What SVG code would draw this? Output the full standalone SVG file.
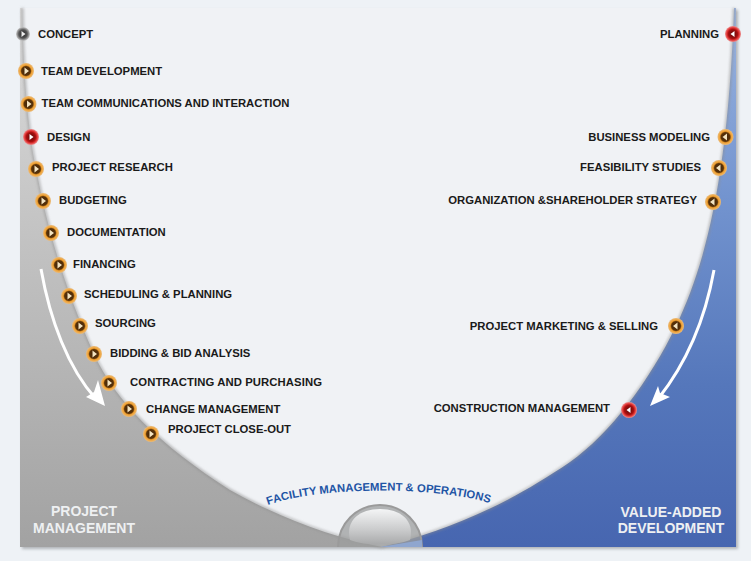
<svg xmlns="http://www.w3.org/2000/svg" xmlns:xlink="http://www.w3.org/1999/xlink" width="751" height="561" viewBox="0 0 751 561">
<style>
text{font-family:"Liberation Sans",Arial,sans-serif}
.l{font-size:11.300px;font-weight:bold;fill:#1a1a1a}
.e{text-anchor:end}
.t{font-size:14px;font-weight:bold;fill:#eef0f2;text-anchor:middle}
</style>
<defs>
<linearGradient id="grey" x1="0" y1="0" x2="0" y2="1"><stop offset="0" stop-color="#dcdcdc"/><stop offset=".4" stop-color="#c4c4c4"/><stop offset="1" stop-color="#a2a2a2"/></linearGradient>
<linearGradient id="blue" x1="0" y1="0" x2="0" y2="1"><stop offset="0" stop-color="#9ab4e0"/><stop offset=".35" stop-color="#7394cf"/><stop offset=".7" stop-color="#5577bb"/><stop offset="1" stop-color="#4766b0"/></linearGradient>
<linearGradient id="dome" x1="0" y1="0" x2="0" y2="1"><stop offset="0" stop-color="#f4f5f6"/><stop offset=".6" stop-color="#c9cacb"/><stop offset="1" stop-color="#a8a9aa"/></linearGradient>
<radialGradient id="or"><stop offset="0" stop-color="#3a2208"/><stop offset=".55" stop-color="#5a3208"/><stop offset=".72" stop-color="#f0a030"/><stop offset="1" stop-color="#eabb7a"/></radialGradient>
<radialGradient id="rd"><stop offset="0" stop-color="#5a0808"/><stop offset=".58" stop-color="#a81010"/><stop offset=".76" stop-color="#e03030"/><stop offset="1" stop-color="#ec9090"/></radialGradient>
<radialGradient id="gy"><stop offset="0" stop-color="#222"/><stop offset=".6" stop-color="#555"/><stop offset="1" stop-color="#c8c8c8"/></radialGradient>
<g id="or-r"><circle r="8" fill="url(#or)"/><path d="M-1.500-3.500L3 0L-1.500 3.500Z" fill="#f4e4c0"/></g>
<g id="or-l"><circle r="8" fill="url(#or)"/><path d="M1.500-3.500L-3 0L1.500 3.500Z" fill="#f4e4c0"/></g>
<g id="rd-r"><circle r="8" fill="url(#rd)"/><path d="M-1.500-3L2.500 0L-1.500 3Z" fill="#fff"/></g>
<g id="rd-l"><circle r="8" fill="url(#rd)"/><path d="M1.500-3L-2.500 0L1.500 3Z" fill="#fff"/></g>
<g id="gy-r"><circle r="7" fill="url(#gy)"/><path d="M-1.500-3L2.500 0L-1.500 3Z" fill="#eee"/></g>
<filter id="sh" x="-5%" y="-5%" width="110%" height="110%"><feGaussianBlur stdDeviation="1.500"/></filter>
</defs>
<rect width="751" height="561" fill="#eef2f6"/>
<g id="panel">
<rect x="22" y="10" width="716" height="539" fill="#b0b4b8" filter="url(#sh)"/>
<rect x="20" y="8" width="716" height="539" fill="#f0f2f5"/>
<path d="M20 8H22.500C23 70 28 130 36 168C46 222 62 282 94 354C116 402 160 445 230 490C280 518 335 538 382 547H20Z" fill="url(#grey)"/>
<path d="M736 8V547H382C440 532 500 510 570 462C610 434 650 380 676 326C705 265 728 180 734 8Z" fill="url(#blue)"/>
<path d="M22.500 8C23 70 28 130 36 168C46 222 62 282 94 354C116 402 160 445 230 490C280 518 335 538 382 547" fill="none" stroke="#8e8e8e" stroke-width="1.500" filter="url(#sh)"/>
<path d="M734 8C728 180 705 265 676 326C650 380 610 434 570 462C500 510 440 532 382 547" fill="none" stroke="#8e8e8e" stroke-width="1.500" filter="url(#sh)"/>
</g>
<g id="dome-node">
<path d="M338 547A42 42 0 0 1 422 547Z" fill="#9c9d9e" fill-opacity=".75"/>
<path d="M350 540C345 520 360 509 380 509C400 509 415 520 410 540C395 546 365 546 350 540Z" fill="url(#dome)"/>
<path d="M338 547A42 42 0 0 1 422 547" fill="none" stroke="#9a9a9a" stroke-width="2"/>
<path d="M380 547L422 540V547Z" fill="#8fa6cf"/>
</g>
<g id="connectors" fill="none" stroke="#fff" stroke-width="3">
<path d="M41 269C50 320 68 368 96 399"/>
<path d="M714 270C705 320 685 365 658 399"/>
<path d="M105 406L86 397L94 392L98 380Z" fill="#fff" stroke="none"/>
<path d="M650 406L670 397L660 393L658 386Z" fill="#fff" stroke="none"/>
</g>
<g id="concept"><use href="#gy-r" x="23" y="34"/><text class="l" x="38" y="37.500">CONCEPT</text></g>
<g id="team-development"><use href="#or-r" x="26" y="71"/><text class="l" x="41" y="74.500">TEAM DEVELOPMENT</text></g>
<g id="team-communications"><use href="#or-r" x="28.500" y="104"/><text class="l" x="41.500" y="106.500">TEAM COMMUNICATIONS AND INTERACTION</text></g>
<g id="design"><use href="#rd-r" x="31" y="137"/><text class="l" x="47" y="140.500">DESIGN</text></g>
<g id="project-research"><use href="#or-r" x="36" y="169"/><text class="l" x="52" y="171" textLength="121">PROJECT RESEARCH</text></g>
<g id="budgeting"><use href="#or-r" x="43" y="201"/><text class="l" x="59" y="203.500">BUDGETING</text></g>
<g id="documentation"><use href="#or-r" x="51" y="233"/><text class="l" x="67" y="236">DOCUMENTATION</text></g>
<g id="financing"><use href="#or-r" x="59" y="265"/><text class="l" x="73" y="267.500">FINANCING</text></g>
<g id="scheduling"><use href="#or-r" x="69" y="296"/><text class="l" x="84" y="297.500">SCHEDULING &amp; PLANNING</text></g>
<g id="sourcing"><use href="#or-r" x="80" y="326"/><text class="l" x="95" y="327">SOURCING</text></g>
<g id="bidding"><use href="#or-r" x="94" y="354"/><text class="l" x="110" y="356.500">BIDDING &amp; BID ANALYSIS</text></g>
<g id="contracting"><use href="#or-r" x="109" y="383"/><text class="l" x="130" y="385.500" textLength="192">CONTRACTING AND PURCHASING</text></g>
<g id="change-management"><use href="#or-r" x="129" y="409"/><text class="l" x="146" y="412.500">CHANGE MANAGEMENT</text></g>
<g id="close-out"><use href="#or-r" x="151" y="434"/><text class="l" x="168" y="433">PROJECT CLOSE-OUT</text></g>
<g id="planning"><use href="#rd-l" x="733" y="34"/><text class="l e" x="719" y="37.500">PLANNING</text></g>
<g id="business-modeling"><use href="#or-l" x="725.500" y="137"/><text class="l e" x="710" y="140.500">BUSINESS MODELING</text></g>
<g id="feasibility"><use href="#or-l" x="719" y="168"/><text class="l e" x="701" y="170.500">FEASIBILITY STUDIES</text></g>
<g id="organization"><use href="#or-l" x="713" y="202"/><text class="l e" x="697" y="203.500">ORGANIZATION &amp;SHAREHOLDER STRATEGY</text></g>
<g id="marketing"><use href="#or-l" x="676" y="326"/><text class="l e" x="658" y="330">PROJECT MARKETING &amp; SELLING</text></g>
<g id="construction"><use href="#rd-l" x="629" y="410"/><text class="l e" x="610" y="411.500">CONSTRUCTION MANAGEMENT</text></g>
<g id="project-management-label"><text class="t" x="84" y="516">PROJECT</text><text class="t" x="84" y="533">MANAGEMENT</text></g>
<g id="value-added-label"><text class="t" x="671" y="517">VALUE-ADDED</text><text class="t" x="671" y="533">DEVELOPMENT</text></g>
<g id="facility">
<path id="arc" d="M268 505C320 486 440 486 492 504" fill="none"/>
<text font-size="11.300" font-weight="bold" fill="#1f55a5"><textPath href="#arc" xlink:href="#arc" textLength="224" lengthAdjust="spacing">FACILITY MANAGEMENT &amp; OPERATIONS</textPath></text>
</g>
</svg>
